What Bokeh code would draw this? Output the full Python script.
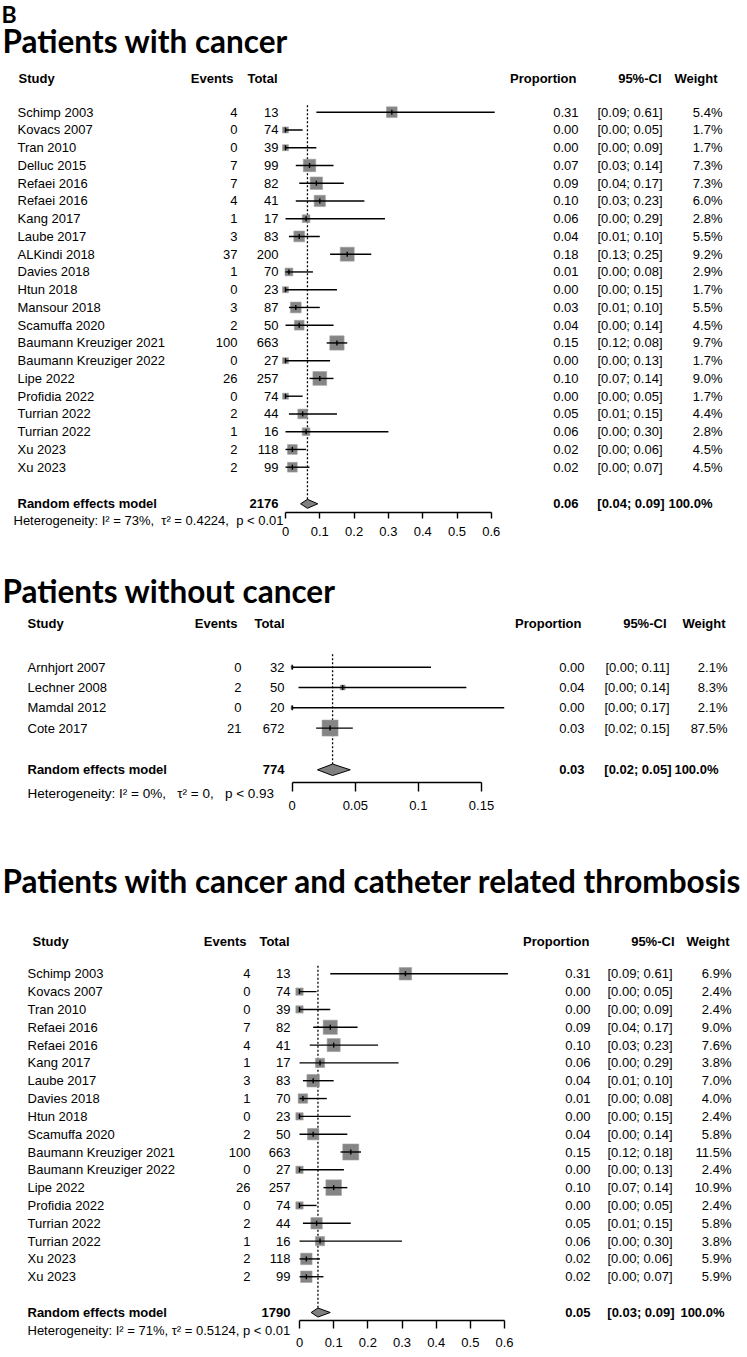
from bokeh.plotting import figure
from bokeh.models import Range1d, LinearAxis, FixedTicker, CustomJSTickFormatter
from bokeh.layouts import column
from bokeh.core.properties import value
from bokeh.embed import file_html
from bokeh.resources import INLINE

W = 747
FONT = "Liberation Sans"
TFONT = "Lato"

# ---------------- data: panel 1 ----------------
studies1 = ["Schimp 2003", "Kovacs 2007", "Tran 2010", "Delluc 2015", "Refaei 2016", "Refaei 2016",
            "Kang 2017", "Laube 2017", "ALKindi 2018", "Davies 2018", "Htun 2018", "Mansour 2018",
            "Scamuffa 2020", "Baumann Kreuziger 2021", "Baumann Kreuziger 2022", "Lipe 2022",
            "Profidia 2022", "Turrian 2022", "Turrian 2022", "Xu 2023", "Xu 2023"]
events1 = [4, 0, 0, 7, 7, 4, 1, 3, 37, 1, 0, 3, 2, 100, 0, 26, 0, 2, 1, 2, 2]
total1 = [13, 74, 39, 99, 82, 41, 17, 83, 200, 70, 23, 87, 50, 663, 27, 257, 74, 44, 16, 118, 99]
prop1 = [0.31, 0.00, 0.00, 0.07, 0.09, 0.10, 0.06, 0.04, 0.18, 0.01, 0.00, 0.03, 0.04, 0.15, 0.00,
         0.10, 0.00, 0.05, 0.06, 0.02, 0.02]
lo1 = [0.09, 0.00, 0.00, 0.03, 0.04, 0.03, 0.00, 0.01, 0.13, 0.00, 0.00, 0.01, 0.00, 0.12, 0.00,
       0.07, 0.00, 0.01, 0.00, 0.00, 0.00]
hi1 = [0.61, 0.05, 0.09, 0.14, 0.17, 0.23, 0.29, 0.10, 0.25, 0.08, 0.15, 0.10, 0.14, 0.18, 0.13,
       0.14, 0.05, 0.15, 0.30, 0.06, 0.07]
ci1 = ["[0.09; 0.61]", "[0.00; 0.05]", "[0.00; 0.09]", "[0.03; 0.14]", "[0.04; 0.17]", "[0.03; 0.23]",
       "[0.00; 0.29]", "[0.01; 0.10]", "[0.13; 0.25]", "[0.00; 0.08]", "[0.00; 0.15]", "[0.01; 0.10]",
       "[0.00; 0.14]", "[0.12; 0.08]", "[0.00; 0.13]", "[0.07; 0.14]", "[0.00; 0.05]", "[0.01; 0.15]",
       "[0.00; 0.30]", "[0.00; 0.06]", "[0.00; 0.07]"]
weight1 = [5.4, 1.7, 1.7, 7.3, 7.3, 6.0, 2.8, 5.5, 9.2, 2.9, 1.7, 5.5, 4.5, 9.7, 1.7, 9.0, 1.7, 4.4,
           2.8, 4.5, 4.5]
pooled1 = [0.064, 0.044, 0.094]
het1 = ["Heterogeneity: I² = 73%", "τ² = 0.4224", "p < 0.01"]

# ---------------- data: panel 2 ----------------
studies2 = ["Arnhjort 2007", "Lechner 2008", "Mamdal 2012", "Cote 2017"]
events2 = [0, 2, 0, 21]
total2 = [32, 50, 20, 672]
prop2 = [0.00, 0.04, 0.00, 0.03]
lo2 = [0.00, 0.005, 0.00, 0.019]
hi2 = [0.11, 0.138, 0.168, 0.048]
ci2 = ["[0.00; 0.11]", "[0.00; 0.14]", "[0.00; 0.17]", "[0.02; 0.15]"]
weight2 = [2.1, 8.3, 2.1, 87.5]
pooled2 = [0.032, 0.02, 0.046]
het2 = ["Heterogeneity: I² = 0%", "τ² = 0", "p < 0.93"]

# ---------------- data: panel 3 ----------------
studies3 = ["Schimp 2003", "Kovacs 2007", "Tran 2010", "Refaei 2016", "Refaei 2016", "Kang 2017",
            "Laube 2017", "Davies 2018", "Htun 2018", "Scamuffa 2020", "Baumann Kreuziger 2021",
            "Baumann Kreuziger 2022", "Lipe 2022", "Profidia 2022", "Turrian 2022", "Turrian 2022",
            "Xu 2023", "Xu 2023"]
events3 = [4, 0, 0, 7, 4, 1, 3, 1, 0, 2, 100, 0, 26, 0, 2, 1, 2, 2]
total3 = [13, 74, 39, 82, 41, 17, 83, 70, 23, 50, 663, 27, 257, 74, 44, 16, 118, 99]
prop3 = [0.31, 0.00, 0.00, 0.09, 0.10, 0.06, 0.04, 0.01, 0.00, 0.04, 0.15, 0.00, 0.10, 0.00, 0.05,
         0.06, 0.02, 0.02]
lo3 = [0.09, 0.00, 0.00, 0.04, 0.03, 0.00, 0.01, 0.00, 0.00, 0.00, 0.12, 0.00, 0.07, 0.00, 0.01,
       0.00, 0.00, 0.00]
hi3 = [0.61, 0.05, 0.09, 0.17, 0.23, 0.29, 0.10, 0.08, 0.15, 0.14, 0.18, 0.13, 0.14, 0.05, 0.15,
       0.30, 0.06, 0.07]
ci3 = ["[0.09; 0.61]", "[0.00; 0.05]", "[0.00; 0.09]", "[0.04; 0.17]", "[0.03; 0.23]", "[0.00; 0.29]",
       "[0.01; 0.10]", "[0.00; 0.08]", "[0.00; 0.15]", "[0.00; 0.14]", "[0.12; 0.18]", "[0.00; 0.13]",
       "[0.07; 0.14]", "[0.00; 0.05]", "[0.01; 0.15]", "[0.00; 0.30]", "[0.00; 0.06]", "[0.00; 0.07]"]
weight3 = [6.9, 2.4, 2.4, 9.0, 7.6, 3.8, 7.0, 4.0, 2.4, 5.8, 11.5, 2.4, 10.9, 2.4, 5.8, 3.8, 5.9, 5.9]
pooled3 = [0.054, 0.034, 0.09]
het3 = ["Heterogeneity: I² = 71%", "τ² = 0.5124", "p < 0.01"]

ticks_a = [0, 0.1, 0.2, 0.3, 0.4, 0.5, 0.6]
ticks_b = [0, 0.05, 0.1, 0.15]

titles = ["Patients with cancer", "Patients without cancer",
          "Patients with cancer and catheter related thrombosis"]
headers = ["Study", "Events", "Total", "Proportion", "95%-CI", "Weight"]


def make_panel(L, d):
    ppu = L["ppu"]
    px0 = L["px0"]
    H = L["H"]
    p = figure(width=W, height=H, x_range=Range1d(-px0 / ppu, (W - px0) / ppu),
               y_range=Range1d(H, 0), output_backend="svg", toolbar_location=None,
               x_axis_location=None, y_axis_location=None, tools="",
               min_border_left=0, min_border_right=0, min_border_top=0,
               min_border_bottom=0, outline_line_color=None,
               background_fill_color="white", border_fill_color="white")
    p.grid.visible = False
    p.extra_x_ranges = {"px": Range1d(0, W)}

    def txt(xs, ys, ts, align="left", bold=False, size="13px", font=FONT, baseline="middle"):
        p.text(x=xs, y=ys, text=ts, x_range_name="px", text_align=align, text_baseline=baseline,
               text_font=value(font), text_font_size=size,
               text_font_style="bold" if bold else "normal", text_color="black")

    c = L["cols"]
    # titles
    if L.get("letter"):
        txt([1], [L["letter_y"]], [L["letter"]], bold=True, size="23px", font=TFONT)
    txt([2], [L["title_y"]], [d["title"]], bold=True, size="31.5px", font=TFONT)

    # header
    hy = L["header_y"]
    txt([c["study_h"]], [hy], [headers[0]], bold=True)
    txt([c["ev_h"], c["tot_h"], c["prop_h"], c["ci_h"], c["wt_h"]], [hy] * 5, headers[1:],
        align="right", bold=True)

    n = len(d["studies"])
    ys = [L["row0"] + i * L["row_h"] for i in range(n)]
    txt([c["study"]] * n, ys, d["studies"])
    txt([c["ev"]] * n, ys, [str(v) for v in d["events"]], align="right")
    txt([c["tot"]] * n, ys, [str(v) for v in d["total"]], align="right")
    txt([c["prop"]] * n, ys, ["%.2f" % v for v in d["prop"]], align="right")
    txt([c["ci"]] * n, ys, d["ci"], align="right")
    txt([c["wt"]] * n, ys, ["%.1f%%" % v for v in d["weight"]], align="right")

    # pooled row
    ry = L["re_y"]
    est, plo, phi = d["pooled"]
    txt([c["study"]], [ry], ["Random effects model"], bold=True)
    txt([c["tot"]], [ry], [str(sum(d["total"]))], align="right", bold=True)
    txt([c["p_prop"]], [ry], ["%.2f" % est], align="right", bold=True)
    txt([c["p_ci"]], [ry], ["[%.2f; %.2f]" % (plo, phi)], align="right", bold=True)
    txt([c["p_wt"]], [ry], ["100.0%"], align="right", bold=True)

    # heterogeneity
    sep = ", " + "\u00a0" * L["het_sp"]
    txt([L["het_x"]], [L["het_y"]], [sep.join(d["het"])], size=L["het_size"])

    # pooled dotted line
    p.segment(x0=[est], x1=[est], y0=[L["row0"] - L["dot_top"]], y1=[ry],
              line_color="black", line_width=1.3, line_dash="2 2")

    # squares, CI lines, estimate ticks
    wmax = max(d["weight"])
    sizes = [L["box"] * (w / wmax) ** 0.5 for w in d["weight"]]
    p.scatter(x=d["prop"], y=ys, size=sizes, marker="square", fill_color="#858585",
              line_color="#a0a0a0", line_width=0.6)
    p.segment(x0=d["lo"], x1=d["hi"], y0=ys, y1=ys, line_color="black", line_width=1.4)
    p.segment(x0=d["prop"], x1=d["prop"], y0=[y - 2.5 for y in ys], y1=[y + 2.5 for y in ys],
              line_color="black", line_width=1.4)

    # diamond
    hh = L["dia_h"] / 2.0
    p.patch(x=[plo, est, phi, est], y=[ry, ry - hh, ry, ry + hh], fill_color="#808080",
            line_color="black", line_width=1)

    ax = LinearAxis(ticker=FixedTicker(ticks=d["ticks"]), bounds=(d["ticks"][0], d["ticks"][-1]),
                    fixed_location=L["axis_y"],
                    formatter=CustomJSTickFormatter(code="return (Math.round(tick*1000)/1000).toString();"),
                    major_tick_in=0, major_tick_out=L["tick_out"], minor_tick_line_color=None,
                    major_label_standoff=L["standoff"], axis_line_width=1.4,
                    major_tick_line_width=1.4, axis_line_color="black",
                    major_tick_line_color="black", major_label_text_font=FONT,
                    major_label_text_font_size="13px", major_label_text_color="black")
    p.add_layout(ax, "below")
    return p


L1 = dict(H=557, px0=285, ppu=343.0, letter="B", letter_y=13, title_y=40,
          header_y=78, row0=111.7, row_h=17.75, re_y=503.3, axis_y=512, het_x=13, het_y=519.5,
          het_size="13px", het_sp=1,
          box=14.3, dia_h=9, tick_out=6, standoff=8, dot_top=7,
          cols=dict(study=17, study_h=18, ev=237, ev_h=233, tot=278, tot_h=277, prop=578,
                    prop_h=576, ci=662, ci_h=661, wt=722, wt_h=717, p_prop=578, p_ci=664,
                    p_wt=712))
L2 = dict(H=293, px0=291.7, ppu=1262.0, title_y=33,
          header_y=66, row0=109.7, row_h=20.3, re_y=212.3, axis_y=224.7, het_x=27, het_y=235.7,
          het_size="13.5px", het_sp=2,
          box=16, dia_h=11.5, tick_out=9, standoff=10, dot_top=13,
          cols=dict(study=27, study_h=27, ev=241, ev_h=237, tot=284, tot_h=284, prop=584,
                    prop_h=581, ci=669, ci_h=666, wt=727, wt_h=725, p_prop=584, p_ci=671,
                    p_wt=718))
L3 = dict(H=507, px0=299, ppu=341.7, title_y=30,
          header_y=90.7, row0=123.3, row_h=17.82, re_y=462, axis_y=469.7, het_x=27, het_y=479.7,
          het_size="13px", het_sp=0,
          box=16, dia_h=9, tick_out=8, standoff=10, dot_top=8,
          cols=dict(study=27, study_h=32, ev=250, ev_h=246, tot=290, tot_h=289, prop=590,
                    prop_h=589, ci=672, ci_h=674, wt=731, wt_h=729, p_prop=590, p_ci=674,
                    p_wt=724))

D1 = dict(title=titles[0], studies=studies1, events=events1, total=total1, prop=prop1, lo=lo1,
          hi=hi1, ci=ci1, weight=weight1, pooled=pooled1, het=het1, ticks=ticks_a)
D2 = dict(title=titles[1], studies=studies2, events=events2, total=total2, prop=prop2, lo=lo2,
          hi=hi2, ci=ci2, weight=weight2, pooled=pooled2, het=het2, ticks=ticks_b)
D3 = dict(title=titles[2], studies=studies3, events=events3, total=total3, prop=prop3, lo=lo3,
          hi=hi3, ci=ci3, weight=weight3, pooled=pooled3, het=het3, ticks=ticks_a)

layout = column(make_panel(L1, D1), make_panel(L2, D2), make_panel(L3, D3), spacing=0)

open("out.html", "w").write(file_html(layout, INLINE))
